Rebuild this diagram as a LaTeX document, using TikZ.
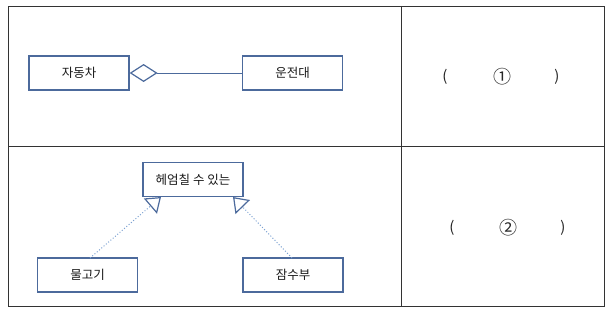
\documentclass[tikz,border=0pt]{standalone}
\usepackage{fontspec}
\setmainfont{Noto Sans CJK KR}
\newfontfamily\numfont{Noto Sans CJK KR}
\usetikzlibrary{arrows.meta}
\definecolor{boxblue}{HTML}{4C6A9C}
\definecolor{dotblue}{HTML}{7FA3D3}
\definecolor{gridgray}{HTML}{333333}
\tikzset{
  umlbox/.style={draw=boxblue, line width=1.2pt, minimum width=100pt, minimum height=34pt, inner sep=0pt, font=\fontsize{12.5}{14}\selectfont, text=black!90},
  realize/.style={draw=dotblue, line width=1pt, dotted, -{Triangle[open, length=14pt, width=20pt, line width=1.2pt, color=boxblue]}},
  aggr/.style={draw=boxblue, line width=1pt, {Diamond[open, length=28pt, width=18pt, line width=1.2pt, color=boxblue]}-},
  paren/.style={font=\fontsize{15}{17}\selectfont, text=black!85},
  numtext/.style={font=\numfont\fontsize{18}{20}\selectfont, text=black!85},
  tablebox/.style={draw=gridgray, line width=0.9pt}
}
\begin{document}
\begin{tikzpicture}[x=1pt, y=-1pt]
\useasboundingbox (0,0) rectangle (609,313);
% table
\draw[tablebox] (8,6) rectangle (604,306);
\draw[tablebox] (401,6) -- (401,306);
\draw[tablebox] (8,146) -- (604,146);
% row 1
\node[umlbox] (car) at (79,73) {자동차};
\node[umlbox] (driver) at (292.5,73) {운전대};
\draw[aggr] (car.east) -- (driver.west);
% row 2
\node[umlbox] (swim) at (193,179.5) {헤엄칠 수 있는};
\node[umlbox] (fish) at (87.5,275) {물고기};
\node[umlbox] (diver) at (293,275) {잠수부};
\coordinate (f0) at (90,258);
\coordinate (f1) at (161,197);
\coordinate (d0) at (292,258);
\coordinate (d1) at (233,197);
\draw[realize] (f0) -- (f1);
\draw[realize] (d0) -- (d1);
% answer cells
\node[paren] (l1) at (445,77) {(};
\node[numtext] (n1) at (502,77) {①};
\node[paren] (r1) at (557,77) {)};
\node[paren] (l2) at (452,228) {(};
\node[numtext] (n2) at (508,228) {②};
\node[paren] (r2) at (563,228) {)};
\end{tikzpicture}
\end{document}
